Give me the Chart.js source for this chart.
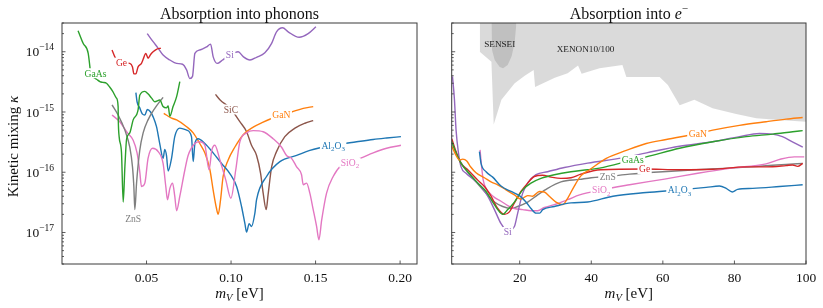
<!DOCTYPE html>
<html><head><meta charset="utf-8">
<script src="https://cdn.jsdelivr.net/npm/chart.js@4/dist/chart.umd.min.js"></script>
<style>
html,body{margin:0;padding:0;background:#fff;}
#wrap{position:relative;width:823px;height:308px;overflow:hidden;}
#c1{position:absolute;left:0;top:0;}
#c2{position:absolute;left:420px;top:0;}
</style></head><body>
<div id="wrap"><canvas id="c1" width="420" height="308"></canvas><canvas id="c2" width="403" height="308"></canvas></div>
<script>
// ---------- DATA: absorption into phonons (x: m_V in eV, y: kinetic mixing) ----------
const gaAsPhonon = [[0.0095,2.24e-14],[0.0125,1.38e-14],[0.0155,9.4e-15],[0.0165,5.6e-15],[0.0169,4.4e-15],[0.0184,3.8e-15],[0.0204,3.5e-15],[0.0224,3.2e-15],[0.0241,3.1e-15],[0.0263,3.0e-15],[0.0282,2.6e-15],[0.0300,2.2e-15],[0.0322,1.7e-15],[0.0332,1.23e-15],[0.0333,7.4e-16],[0.0338,3.9e-16],[0.0352,2.1e-16],[0.0362,3.2e-17],[0.0372,1.23e-16],[0.0382,3.5e-16],[0.0401,4.5e-16],[0.0421,7.4e-16],[0.0450,1.08e-15],[0.0460,1.9e-15],[0.0490,2.2e-15],[0.0509,2.0e-15],[0.0530,1.7e-15],[0.0549,1.48e-15],[0.0579,1.58e-15],[0.0598,1.23e-15],[0.0618,1.17e-15],[0.0628,1.26e-15],[0.0638,8.5e-16],[0.0657,1.23e-15],[0.0678,1.8e-15],[0.0697,3.2e-15]];
const gePhonon = [[0.0296,1.07e-14],[0.0312,8.3e-15],[0.0332,6.8e-15],[0.0372,6.5e-15],[0.0401,6.4e-15],[0.0417,5.6e-15],[0.0425,4.3e-15],[0.0437,4.3e-15],[0.0450,5.6e-15],[0.0470,6.4e-15],[0.0480,7.5e-15],[0.0496,9.4e-15],[0.0509,7.8e-15],[0.0524,9.0e-15],[0.0539,1.0e-14],[0.0559,1.1e-14],[0.0585,1.15e-14]];
const siPhonon = [[0.0504,2.0e-14],[0.0539,1.47e-14],[0.0569,1.14e-14],[0.0598,8.8e-15],[0.0638,7.3e-15],[0.0678,6.4e-15],[0.0713,6.2e-15],[0.0737,5.0e-15],[0.0756,3.6e-15],[0.0772,3.9e-15],[0.0786,9.4e-15],[0.0815,1.07e-14],[0.0855,1.2e-14],[0.0879,1.34e-14],[0.0894,8.3e-15],[0.0918,6.4e-15],[0.0950,7.3e-15],[0.0993,8.8e-15],[0.1042,1.0e-14],[0.1072,8.3e-15],[0.1112,7.3e-15],[0.1151,8.1e-15],[0.1200,9.6e-15],[0.1240,1.38e-14],[0.1269,2.14e-14],[0.1305,2.5e-14],[0.1338,2.14e-14],[0.1403,1.74e-14],[0.1456,2.0e-14],[0.1502,2.6e-14]];
const znsPhonon = [[0.0296,1.31e-15],[0.0332,8.9e-16],[0.0372,5.0e-16],[0.0401,2.6e-16],[0.0417,1.23e-16],[0.0425,5.8e-17],[0.0431,2.4e-17],[0.0441,6.6e-17],[0.0460,2.3e-16],[0.0480,4.5e-16],[0.0509,7.4e-16],[0.0549,1.15e-15],[0.0598,1.75e-15]];
const sio2Phonon = [[0.0296,8.9e-16],[0.0342,6.9e-16],[0.0382,4.7e-16],[0.0421,3.4e-16],[0.0444,2.1e-16],[0.0460,1.02e-16],[0.0470,5.8e-17],[0.0490,6.6e-17],[0.0509,1.7e-16],[0.0536,2.5e-16],[0.0569,2.2e-16],[0.0598,1.4e-16],[0.0614,5.8e-17],[0.0624,3.5e-17],[0.0638,5.4e-17],[0.0654,6.6e-17],[0.0667,4.0e-17],[0.0678,2.3e-17],[0.0697,4.0e-17],[0.0727,1.1e-16],[0.0746,1.9e-16],[0.0786,3.0e-16],[0.0815,3.2e-16],[0.0845,2.8e-16],[0.0870,1.1e-16],[0.0886,2.3e-16],[0.0904,2.8e-16],[0.0934,1.6e-16],[0.0969,7.4e-17],[0.0999,3.7e-17],[0.1028,1.1e-16],[0.1052,3.2e-16],[0.1092,4.5e-16],[0.1131,4.9e-16],[0.1190,4.7e-16],[0.1249,3.6e-16],[0.1299,2.6e-16],[0.1328,1.9e-16],[0.1358,1.7e-16],[0.1388,1.23e-16],[0.1417,9.1e-17],[0.1427,6.2e-17],[0.1447,6.6e-17],[0.1466,4.5e-17],[0.1486,2.4e-17],[0.1506,1.26e-17],[0.1520,7.6e-18],[0.1536,1.6e-17],[0.1565,4.5e-17],[0.1604,8.5e-17],[0.1654,1.32e-16],[0.1703,1.5e-16],[0.1762,1.7e-16],[0.1841,2.1e-16],[0.1920,2.5e-16],[0.2005,2.8e-16]];
const al2o3Phonon = [[0.0437,2.1e-15],[0.0444,1.48e-15],[0.0460,1.17e-15],[0.0475,9.3e-16],[0.0490,8.9e-16],[0.0505,1.1e-15],[0.0524,1.0e-15],[0.0539,8.3e-16],[0.0559,5.7e-16],[0.0579,2.9e-16],[0.0598,1.7e-16],[0.0608,2.4e-16],[0.0618,1.9e-16],[0.0628,1.05e-16],[0.0648,1.7e-16],[0.0667,3.9e-16],[0.0697,5.4e-16],[0.0737,5.0e-16],[0.0766,3.9e-16],[0.0776,1.5e-16],[0.0786,3.0e-16],[0.0805,3.6e-16],[0.0845,3.0e-16],[0.0894,2.1e-16],[0.0944,1.4e-16],[0.0993,9.5e-17],[0.1033,5.8e-17],[0.1062,2.7e-17],[0.1082,1.4e-17],[0.1092,1.02e-17],[0.1107,1.4e-17],[0.1121,1.26e-17],[0.1141,2.1e-17],[0.1151,3.5e-17],[0.1210,8.5e-17],[0.1289,1.5e-16],[0.1388,1.9e-16],[0.1466,2.3e-16],[0.1604,2.8e-16],[0.1743,3.2e-16],[0.1841,3.5e-16],[0.1920,3.7e-16],[0.2005,3.9e-16]];
const ganPhonon = [[0.0602,9.5e-16],[0.0648,7.9e-16],[0.0678,7.4e-16],[0.0737,5.7e-16],[0.0776,4.5e-16],[0.0815,3.0e-16],[0.0845,2.1e-16],[0.0875,1.1e-16],[0.0894,5.1e-17],[0.0914,2.5e-17],[0.0924,2.0e-17],[0.0938,3.5e-17],[0.0953,8.5e-17],[0.0983,1.6e-16],[0.1022,2.6e-16],[0.1072,4.2e-16],[0.1131,5.6e-16],[0.1190,6.8e-16],[0.1240,7.8e-16],[0.1299,8.9e-16],[0.1358,1.0e-15],[0.1427,1.15e-15],[0.1486,1.23e-15]];
const sicPhonon = [[0.0908,1.96e-15],[0.0934,1.6e-15],[0.0999,1.12e-15],[0.1052,6.9e-16],[0.1092,4.7e-16],[0.1121,2.8e-16],[0.1151,1.9e-16],[0.1175,9.5e-17],[0.1190,4.5e-17],[0.1208,2.4e-17],[0.1219,4.2e-17],[0.1240,1.23e-16],[0.1269,2.2e-16],[0.1318,3.9e-16],[0.1378,5.4e-16],[0.1437,6.5e-16],[0.1486,7.2e-16]];

// ---------- DATA: absorption into electrons (x: m_V in eV) ----------
const siElectron = [[1.22,3.9e-15],[1.77,1.6e-15],[2.22,5.0e-16],[2.89,2.1e-16],[3.62,1.23e-16],[5.01,9.6e-17],[7.36,7.4e-17],[9.2,5.8e-17],[11.07,4.0e-17],[12.94,2.4e-17],[14.78,1.4e-17],[16.18,1.1e-17],[16.65,1.07e-17],[18.52,1.26e-17],[19.44,2.1e-17],[20.84,4.5e-17],[22.23,6.6e-17],[24.55,9.1e-17],[27.81,1.02e-16],[32.47,1.2e-16],[38.98,1.42e-16],[48.75,1.73e-16],[55.45,2.1e-16],[64.65,2.7e-16],[73.87,3.2e-16],[81.4,3.9e-16],[87.0,4.4e-16],[90.6,4.3e-16],[93.4,3.9e-16],[96.2,3.2e-16],[99.1,2.6e-16]];
const ganElectron = [[1.02,2.7e-16],[2.14,1.94e-16],[3.17,1.6e-16],[4.09,1.65e-16],[5.21,1.54e-16],[6.32,1.22e-16],[7.80,9.8e-17],[10.15,8.1e-17],[11.99,6.9e-17],[13.86,6.2e-17],[16.18,5.1e-17],[18.52,4.2e-17],[20.36,3.6e-17],[22.23,4.1e-17],[23.63,4.0e-17],[25.50,4.8e-17],[26.89,4.7e-17],[28.29,4.0e-17],[30.13,3.2e-17],[32.0,2.9e-17],[33.4,3.7e-17],[35.27,5.9e-17],[37.1,8.7e-17],[39.54,1.1e-16],[44.2,1.7e-16],[49.78,2.3e-16],[55.36,3.0e-16],[60.94,3.5e-16],[69.76,4.4e-16],[73.95,5.0e-16],[81.4,6.0e-16],[88.85,6.9e-16],[94.43,7.6e-16],[99.07,8.1e-16]];
const gaAsElectron = [[1.02,3.2e-16],[2.22,2.1e-16],[3.62,1.4e-16],[5.49,1.02e-16],[8.28,6.6e-17],[10.6,4.8e-17],[12.46,3.2e-17],[13.86,2.4e-17],[15.26,2.0e-17],[16.65,2.4e-17],[18.52,3.2e-17],[20.84,5.1e-17],[23.15,6.6e-17],[25.94,7.9e-17],[29.68,9.1e-17],[34.32,1.02e-16],[38.98,1.1e-16],[42.33,1.17e-16],[51.62,1.6e-16],[55.36,1.8e-16],[64.65,2.5e-16],[73.95,3.2e-16],[83.27,3.9e-16],[90.7,4.3e-16],[96.28,4.7e-16],[99.07,4.9e-16]];
const geElectron = [[1.02,3.6e-16],[2.22,2.2e-16],[3.62,1.4e-16],[5.49,1.1e-16],[8.28,7.4e-17],[10.15,5.8e-17],[11.99,4.0e-17],[13.86,2.5e-17],[15.73,2.0e-17],[17.13,2.2e-17],[18.52,3.1e-17],[20.36,4.8e-17],[22.23,6.6e-17],[24.1,8.5e-17],[26.42,8.9e-17],[28.74,8.3e-17],[31.53,7.9e-17],[34.32,8.1e-17],[37.1,9.3e-17],[42.6,1.1e-16],[54.9,1.13e-16],[64.65,1.1e-16],[73.95,1.12e-16],[83.27,1.23e-16],[88.85,1.23e-16],[94.43,1.29e-16],[96.28,1.32e-16],[97.67,1.25e-16],[99.07,1.4e-16]];
const znsElectron = [[1.3,2.8e-16],[2.7,1.8e-16],[4.57,1.17e-16],[7.36,7.4e-17],[10.15,4.8e-17],[12.94,3.2e-17],[15.26,2.7e-17],[17.57,2.5e-17],[19.44,2.7e-17],[22.23,3.2e-17],[25.02,4.2e-17],[27.81,5.4e-17],[31.53,6.9e-17],[36.75,7.6e-17],[40.0,8.1e-17],[44.64,8.5e-17],[50.7,9.3e-17],[60.0,1.02e-16],[69.32,1.1e-16],[78.6,1.17e-16],[87.9,1.27e-16],[94.43,1.35e-16],[99.07,1.4e-16]];
const sio2Electron = [[8.92,2.35e-16],[9.31,1.32e-16],[9.81,7.4e-17],[10.6,5.4e-17],[11.63,4.5e-17],[13.02,3.8e-17],[14.78,3.3e-17],[16.65,2.8e-17],[18.52,2.5e-17],[20.84,2.4e-17],[23.15,2.3e-17],[25.02,2.3e-17],[26.89,2.6e-17],[29.68,2.9e-17],[33.4,3.5e-17],[36.75,4.2e-17],[42.8,5.1e-17],[50.7,6.2e-17],[60.47,7.7e-17],[69.76,9.6e-17],[79.1,1.17e-16],[88.85,1.38e-16],[93.04,1.66e-16],[96.75,1.8e-16],[99.5,1.8e-16]];
const al2o3Electron = [[8.75,2.2e-16],[9.2,1.4e-16],[10.6,1.02e-16],[12.46,8.3e-17],[14.78,5.9e-17],[17.57,4.8e-17],[19.92,4.1e-17],[21.76,3.2e-17],[23.15,2.5e-17],[24.55,2.1e-17],[25.58,2.1e-17],[26.42,2.4e-17],[29.68,2.7e-17],[34.32,3.1e-17],[38.98,3.2e-17],[46.04,4.0e-17],[55.36,4.6e-17],[64.65,5.1e-17],[72.1,5.6e-17],[75.8,5.9e-17],[77.7,5.4e-17],[79.4,4.7e-17],[80.9,5.2e-17],[85.1,5.4e-17],[92.6,5.8e-17],[99.07,6.2e-17]];

// excluded regions (boundary of shaded area, shaded up to the top of the plot)
const senseiBound = [[12.1,3e-14],[12.27,1.07e-14],[13.02,7.3e-15],[14.42,5.6e-15],[15.34,5.3e-15],[16.65,6.0e-15],[17.77,8.5e-15],[18.6,1.45e-14],[19.08,3e-14]];
const xenonBound = [[8.84,3e-14],[8.84,1.0e-14],[12.1,6.8e-15],[12.74,6.2e-16],[14.89,1.6e-15],[18.6,3.0e-15],[21.4,4.0e-15],[23.9,5.0e-15],[24.3,2.6e-15],[29.8,3.7e-15],[33.4,4.4e-15],[36.3,5.9e-15],[37.3,4.3e-15],[42.3,5.3e-15],[48.7,6.0e-15],[49.8,3.8e-15],[59.1,3.8e-15],[61.4,2.8e-15],[64.7,1.3e-15],[68.8,1.6e-15],[73.9,1.15e-15],[80.5,9.3e-16],[86.1,7.9e-16],[92.6,7.4e-16],[100,6.9e-16]];

// ticks
const phononXTicks = [0.05, 0.10, 0.15, 0.20];
const electronXTicks = [20, 40, 60, 80, 100];
const kappaDecades = [-17, -16, -15, -14];

// in-line labels: [text, x, y]
const phononLabels = [['GaAs',0.0198,4.4e-15],['Ge',0.0352,6.6e-15],['Si',0.0993,8.9e-15],['ZnS',0.0421,1.7e-17],['SiC',0.0999,1.1e-15],['GaN',0.1298,8.9e-16],['Al2O3',0.1604,2.75e-16],['SiO2',0.1703,1.45e-16]];
const electronLabels = [['GaN',69.76,4.4e-16],['GaAs',51.6,1.6e-16],['Ge',54.9,1.13e-16],['ZnS',44.6,8.5e-17],['SiO2',42.8,5.1e-17],['Al2O3',64.65,5.1e-17],['Si',16.65,1.02e-17]];
const regionLabels = [['SENSEI',14.42,1.33e-14],['XENON10/100',38.4,1.1e-14]];

// ---------- STYLE ----------
const FONT = '"Liberation Serif","DejaVu Serif",serif';
const COL = {Al2O3:'#1f77b4', GaN:'#ff7f0e', GaAs:'#2ca02c', Ge:'#d62728', Si:'#9467bd', SiC:'#8c564b', SiO2:'#e377c2', ZnS:'#7f7f7f'};
const YMIN = 3e-18, YMAX = 3e-14;

function line(pairs, color){
  return {data: pairs.map(p=>({x:p[0], y:p[1]})), borderColor: color, borderWidth: 1.4,
    pointRadius: 0, fill: false, cubicInterpolationMode: 'monotone', order: 1};
}
function region(pairs){
  return {data: pairs.map(p=>({x:p[0], y:p[1]})), borderColor: 'rgba(0,0,0,0)', borderWidth: 0,
    backgroundColor: 'rgba(128,128,128,0.29)', pointRadius: 0, fill: 'end', tension: 0, order: 10};
}

function fnt(p){ return (p.it ? 'italic ' : '') + p.s + 'px ' + FONT; }
function drawParts(ctx, parts, x, base, align){
  let w = 0;
  for (const p of parts){ ctx.font = fnt(p); p.w = ctx.measureText(p.t).width; w += p.w; }
  let cx = align === 'center' ? x - w/2 : (align === 'right' ? x - w : x);
  ctx.textAlign = 'left'; ctx.textBaseline = 'alphabetic';
  for (const p of parts){ ctx.font = fnt(p); ctx.fillText(p.t, cx, base + (p.dy || 0)); cx += p.w; }
  return w;
}
function chemParts(str, s){
  const parts = [];
  for (const ch of str){
    const sub = /[0-9]/.test(ch);
    const last = parts[parts.length-1];
    if (last && last.sub === sub) last.t += ch; else parts.push({t: ch, sub});
  }
  return parts.map(p => ({t: p.t, s: p.sub ? s*0.72 : s, dy: p.sub ? s*0.25 : 0}));
}
function measure(ctx, parts){ let w=0; for(const p of parts){ ctx.font=fnt(p); w+=ctx.measureText(p.t).width; } return w; }

function deco(cfg){
  return {
    id: 'deco_' + cfg.id,
    afterDatasetsDraw(chart){
      const {ctx, scales:{x, y}} = chart;
      ctx.save();
      for (const r of (cfg.regions || [])){
        ctx.fillStyle = '#222';
        drawParts(ctx, [{t:r[0], s:9.2}], x.getPixelForValue(r[1]), y.getPixelForValue(r[2]) + 3.2, 'center');
      }
      for (const L of cfg.labels){
        const px = x.getPixelForValue(L[1]), py = y.getPixelForValue(L[2]);
        const parts = chemParts(L[0], 9.6);
        const w = measure(ctx, parts);
        ctx.fillStyle = '#fff';
        ctx.fillRect(px - w/2 - 1.5, py - 5, w + 3, 10);
        ctx.fillStyle = COL[L[0]];
        drawParts(ctx, parts, px, py + 3.3, 'center');
      }
      ctx.restore();
    },
    afterDraw(chart){
      const {ctx, chartArea:a, scales:{x, y}} = chart;
      ctx.save();
      ctx.strokeStyle = '#333'; ctx.lineWidth = 0.8;
      ctx.beginPath();
      // x ticks (inward)
      for (const v of cfg.xTicks){
        const px = x.getPixelForValue(v);
        ctx.moveTo(px, a.bottom); ctx.lineTo(px, a.bottom - 3.5);
      }
      // y major + minor ticks (inward)
      for (let e = -18; e <= -14; e++){
        for (let m = 1; m <= 9; m++){
          const v = m * Math.pow(10, e);
          if (v < YMIN || v > YMAX) continue;
          const py = y.getPixelForValue(v);
          ctx.moveTo(a.left, py); ctx.lineTo(a.left + (m === 1 ? 3.5 : 2), py);
        }
      }
      ctx.stroke();
      // frame
      ctx.strokeStyle = '#3a3a3a'; ctx.lineWidth = 1;
      ctx.strokeRect(a.left, a.top, a.right - a.left, a.bottom - a.top);
      ctx.fillStyle = '#111';
      // x tick labels
      for (const v of cfg.xTicks){
        drawParts(ctx, [{t: cfg.xFmt(v), s: 13.5}], x.getPixelForValue(v), a.bottom + 17.5, 'center');
      }
      // y tick labels
      if (cfg.yLabels){
        for (const e of kappaDecades){
          const py = y.getPixelForValue(Math.pow(10, e));
          drawParts(ctx, [{t:'10', s:13.5}, {t:'\u2212' + Math.abs(e), s:9.5, dy:-6}], a.left - 8, py + 4.7, 'right');
        }
        ctx.save();
        ctx.translate(13, (a.top + a.bottom)/2 + 3);
        ctx.rotate(-Math.PI/2);
        drawParts(ctx, [{t:'Kinetic mixing ', s:15}, {t:'\u03BA', s:15, it:true}], 0, 5, 'center');
        ctx.restore();
      }
      // x axis label
      const cx = (a.left + a.right)/2;
      drawParts(ctx, [{t:'m', s:15, it:true}, {t:'V', s:10.5, it:true, dy:3}, {t:' [eV]', s:15}], cx, 298, 'center');
      // title
      drawParts(ctx, cfg.title, cx, 18.5, 'center');
      ctx.restore();
    }
  };
}

function makeChart(id, datasets, xmin, xmax, pad, dcfg){
  const axisBase = {display: true, ticks:{display:false}, grid:{display:false}, border:{display:false}, bounds:'data'};
  return new Chart(document.getElementById(id), {
    type: 'line',
    data: {datasets},
    options: {
      responsive: false, animation: false, devicePixelRatio: 1,
      layout: {padding: pad},
      plugins: {legend:{display:false}, tooltip:{enabled:false}, title:{display:false}},
      scales: {
        x: Object.assign({type:'linear', min:xmin, max:xmax, afterFit(s){ s.height = 0; }}, axisBase),
        y: Object.assign({type:'logarithmic', min:YMIN, max:YMAX, afterFit(s){ s.width = 0; }}, axisBase)
      }
    },
    plugins: [deco(dcfg)]
  });
}

makeChart('c1', [
  line(gaAsPhonon, COL.GaAs), line(gePhonon, COL.Ge), line(siPhonon, COL.Si), line(znsPhonon, COL.ZnS),
  line(sio2Phonon, COL.SiO2), line(al2o3Phonon, COL.Al2O3), line(ganPhonon, COL.GaN), line(sicPhonon, COL.SiC)
], 0, 0.21, {left:62, right:3, top:23, bottom:44}, {
  id: 'ph', labels: phononLabels, xTicks: phononXTicks, xFmt: v => v.toFixed(2), yLabels: true,
  title: [{t:'Absorption into phonons', s:16}]
});

makeChart('c2', [
  region(xenonBound), region(senseiBound),
  line(al2o3Electron, COL.Al2O3), line(ganElectron, COL.GaN), line(gaAsElectron, COL.GaAs), line(geElectron, COL.Ge),
  line(siElectron, COL.Si), line(sio2Electron, COL.SiO2), line(znsElectron, COL.ZnS)
], 1, 100, {left:31.7, right:17, top:23, bottom:44}, {
  id: 'el', labels: electronLabels, regions: regionLabels, xTicks: electronXTicks, xFmt: v => String(v), yLabels: false,
  title: [{t:'Absorption into ', s:16}, {t:'e', s:16, it:true}, {t:'\u2212', s:11, dy:-7}]
});
</script>
</body></html>
